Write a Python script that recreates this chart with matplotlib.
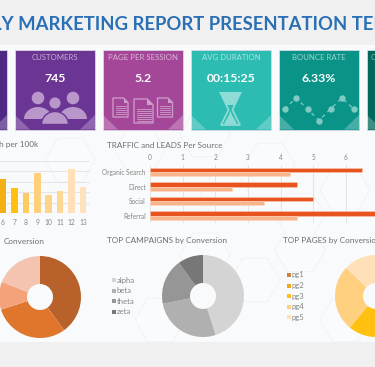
import numpy as np
import matplotlib
matplotlib.use("Agg")
import matplotlib.pyplot as plt
from matplotlib.patches import Circle, Polygon, Rectangle

W, H = 375, 367

plt.rcParams['font.family'] = ['Lato', 'DejaVu Sans']

title = "MONTHLY MARKETING REPORT PRESENTATION TEMPLATE"

# kpi cards
card_labels = ["CUSTOMERS", "PAGE PER SESSION", "AVG DURATION", "BOUNCE RATE"]
card_values = ["745", "5.2", "00:15:25", "6.33%"]
card_colors = ["#6b3593", "#a44799", "#2dbcb2", "#0a9488"]

# bars on the left
growth_x = [6, 7, 8, 9, 10, 11, 12, 13]
growth_y = [3.3, 2.4, 1.9, 3.85, 1.75, 2.1, 4.2, 2.5]
growth_colors = ["#f2b015", "#ffc010", "#ffcb60", "#ffd07c", "#ffd48a", "#ffd795", "#ffe0b8", "#ffe2bd"]

# traffic and leads
sources = ["Organic Search", "Direct", "Social", "Referral"]
traffic = [6.5, 4.5, 5, 7.5]
leads = [4.3, 2.5, 3.5, 4.5]

# donuts
conv_vals = [40, 30, 11, 19]
conv_colors = ["#b8612a", "#e0762b", "#f4a27a", "#f4c4b0"]
camp_labels = ["alpha", "beta", "theta", "zeta"]
camp_vals = [45, 27, 18, 10]
camp_colors = ["#d4d4d4", "#b0b0b0", "#969696", "#777777"]
page_labels = ["pg1", "pg2", "pg3", "pg4", "pg5"]
page_vals = [25, 18, 18, 26, 13]
page_colors = ["#c8843c", "#f0a818", "#ffc010", "#ffd080", "#ffe0b8"]

GREY = "#6f6f6f"
TICK = "#858585"
TITLE_SIZE = 5.9


def px_axes(x0, y0, x1, y1):
    # axes placed by pixel box, y from the top
    return fig.add_axes([x0 / W, 1 - y1 / H, (x1 - x0) / W, (y1 - y0) / H], facecolor="none")


fig = plt.figure(figsize=(W / 100, H / 100), dpi=100, facecolor="#f0f0f0")

# background layer in pixels
bg = fig.add_axes([0, 0, 1, 1])
bg.set_xlim(0, W)
bg.set_ylim(H, 0)
bg.axis("off")
bg.add_patch(Rectangle((0, 45), W, 297, fc="#f8fafb", ec="none"))

# faint hexagon pattern
hex_centers = [(70, 160), (140, 150), (205, 135), (270, 165), (345, 190), (205, 255),
               (255, 280), (300, 250), (345, 320), (160, 320), (225, 195), (300, 215)]
for cx, cy in hex_centers:
    a = np.radians(np.arange(0, 360, 60))
    pts = np.c_[cx + 25 * np.cos(a), cy + 25 * np.sin(a)]
    bg.add_patch(Polygon(pts, closed=True, fc="#fafbfc", ec="#f2f3f5", lw=0.7))

bg.text(-80, 24, title, color="#2b70b5", fontsize=13.3, fontweight="bold", va="center", ha="left")

CARD_Y0, CARD_Y1 = 49.5, 129.5


def draw_card(x0, color):
    x1 = x0 + 80
    bg.add_patch(Rectangle((x0, CARD_Y0), 80, 80, fc=color, ec="#d8d8e4", lw=0.6))
    for p in ([(x0, 115), (x0 + 15, CARD_Y1), (x0, CARD_Y1)], [(x1, 115), (x1 - 15, CARD_Y1), (x1, CARD_Y1)]):
        bg.add_patch(Polygon(p, closed=True, fc="white", alpha=0.25, ec="none"))


draw_card(-73, "#4f2a85")
draw_card(367, "#00695c")
bg.text(371, 57.5, "C", color="white", alpha=0.55, fontsize=5.6, ha="left", va="center")

card_x = [15, 103, 191, 279]
for x0, lab, val, c in zip(card_x, card_labels, card_values, card_colors):
    draw_card(x0, c)
    bg.text(x0 + 40, 57.5, lab, color="white", alpha=0.6, fontsize=5.6, ha="center", va="center")
    bg.text(x0 + 40, 78, val, color="white", fontsize=8.8, fontweight="bold", ha="center", va="center")

# icons
ICON = "#b997cb"
PURPLE = "#6b3593"
for cx, cy, r, top, bw, bh, edge in [(38, 98, 6.3, 107, 28, 12, "none"), (73, 98, 6.3, 107, 28, 12, "none"),
                                     (55, 103, 6.3, 111.5, 27, 13, PURPLE)]:
    # body is a dome with a flat bottom
    t = np.linspace(np.pi, 2 * np.pi, 30)
    dome = np.c_[cx + bw / 2 * np.cos(t), top + bh + bh * np.sin(t)]
    bg.add_patch(Polygon(dome, closed=True, fc=ICON, ec=edge, lw=1))
    bg.add_patch(Circle((cx, cy), r, fc=ICON, ec=edge, lw=1))

DOC = "#cf9fcb"
for x, y, w, h in [(113, 98, 15, 19), (134, 99, 19, 24), (157.5, 98, 15, 19)]:
    c = w * 0.3
    bg.add_patch(Polygon([(x, y), (x + w - c, y), (x + w, y + c), (x + w, y + h), (x, y + h)],
                         closed=True, fc="none", ec=DOC, lw=0.9))
    bg.add_patch(Polygon([(x + w - c, y), (x + w - c, y + c), (x + w, y + c)], closed=True, fc=DOC, ec="none"))
    for ly in np.arange(y + h * 0.4, y + h - 2, 2):
        bg.plot([x + 2.5, x + w - 2.5], [ly, ly], color=DOC, lw=0.6)

GLASS = "#8fdcd6"
bg.add_patch(Polygon([(219, 92), (242, 92), (235.5, 105), (225.5, 105)], closed=True, fc=GLASS, ec="none"))
bg.add_patch(Polygon([(223, 97), (238, 97), (232.5, 110), (240, 125), (221, 125), (228.5, 110)],
                     closed=True, fc="none", ec=GLASS, lw=1.3))
bg.add_patch(Polygon([(224, 124), (237, 124), (232, 115), (230.5, 111), (229, 115)], closed=True, fc=GLASS, ec="none"))

WAVE = "#7fcbc4"
wave_x = [284.5, 296, 307.5, 319, 330.5, 342, 353.5]
wave_y = [109, 98, 109, 120.5, 109, 98, 109]
bg.plot(wave_x, wave_y, color=WAVE, lw=0.9, dashes=(3, 3))
bg.plot(wave_x, wave_y, "o", color=WAVE, ms=4.6, mew=0)

# left bar chart
ax = px_axes(0, 161, 90, 213)
ax.bar(growth_x, growth_y, width=0.58, color=growth_colors)
ax.set_xlim(5.74, 13.61)
ax.set_ylim(0, 5)
ax.set_xticks(growth_x)
ax.set_yticks(range(6))
ax.set_yticklabels([])
ax.grid(axis="y", color="#e6e6e6", lw=0.8)
ax.set_axisbelow(True)
ax.tick_params(length=0, labelsize=4.8, labelcolor=TICK, pad=4)
for s in ax.spines.values():
    s.set_visible(False)
bg.text(38, 145, "h per 100k", color=GREY, fontsize=TITLE_SIZE, ha="right", va="center")

# traffic and leads
ax = px_axes(150, 164.75, 395, 222.75)
pos = np.arange(len(sources))
ax.barh(pos - 0.14, traffic, height=0.28, color="#e9531f", edgecolor="#f8c9ae", lw=0.4)
ax.barh(pos + 0.14, leads, height=0.28, color="#f8b48a", edgecolor="#fbd6bd", lw=0.4)
ax.set_xlim(0, 7.5)
ax.set_ylim(3.5, -0.5)
ax.set_yticks(pos, sources)
ax.set_xticks(range(7))
ax.xaxis.tick_top()
ax.grid(axis="x", color="#e4e4e4", lw=0.7)
ax.set_axisbelow(True)
ax.tick_params(length=0, labelsize=4.7, labelcolor=TICK, pad=3)
for s in ax.spines.values():
    s.set_visible(False)
bg.text(107, 145, "TRAFFIC and LEADS Per Source", color=GREY, fontsize=TITLE_SIZE, ha="left", va="center")


def donut(cx, cy, vals, colors):
    R = 41
    a = px_axes(cx - R, cy - R, cx + R, cy + R)
    a.pie(vals, colors=colors, startangle=90, counterclock=False, radius=1,
          wedgeprops={"width": 28 / 41})
    a.set_xlim(-1, 1)
    a.set_ylim(-1, 1)


donut(40, 297, conv_vals, conv_colors)
donut(203, 296, camp_vals, camp_colors)
donut(376, 296, page_vals, page_colors)

bg.text(44, 241, "Conversion", color=GREY, fontsize=TITLE_SIZE, ha="right", va="center")
bg.text(107, 241, "TOP CAMPAIGNS by Conversion", color=GREY, fontsize=TITLE_SIZE, ha="left", va="center")
bg.text(283, 241, "TOP PAGES by Conversion", color=GREY, fontsize=TITLE_SIZE, ha="left", va="center")

# legends
for i, (lab, c) in enumerate(zip(camp_labels, camp_colors)):
    y = 280 + i * 10.6
    bg.plot(113.5, y, "s", color=c, ms=2.4, mew=0)
    bg.text(116.5, y, lab, color=TICK, fontsize=5.6, va="center")
for i, (lab, c) in enumerate(zip(page_labels, page_colors)):
    y = 275 + i * 10.6
    bg.plot(289, y, "s", color=c, ms=2.6, mew=0)
    bg.text(292, y, lab, color=TICK, fontsize=5.6, va="center")

bg.set_xlim(0, W)
bg.set_ylim(H, 0)
fig.savefig("out.png", dpi=100, facecolor=fig.get_facecolor())
